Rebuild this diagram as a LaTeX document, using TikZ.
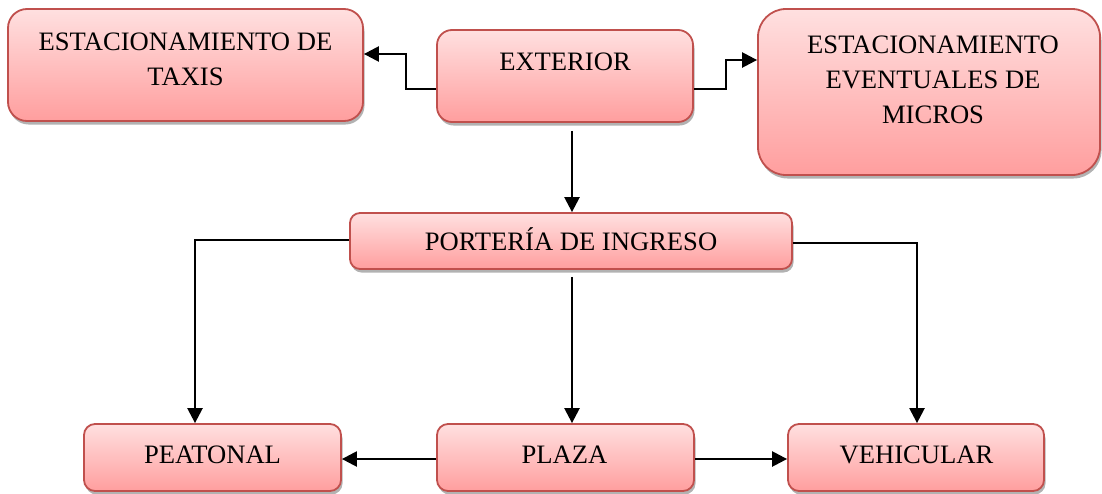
\documentclass[tikz,border=0pt]{standalone}
\usepackage{fontspec}
\setmainfont{Liberation Serif}
\usetikzlibrary{arrows.meta,shadows}
\definecolor{boxtop}{RGB}{255,224,224}
\definecolor{boxbot}{RGB}{255,158,158}
\definecolor{boxline}{RGB}{192,80,77}
\begin{document}
\begin{tikzpicture}[x=1pt,y=-1pt,
 box/.style={draw=boxline, line width=1.8pt, top color=boxtop, bottom color=boxbot,
   drop shadow={shadow xshift=1.5pt,shadow yshift=-3.5pt,opacity=0.3,fill=black}, inner sep=0pt},
 lbl/.style={font=\fontsize{26.6}{35}\selectfont, align=center, inner sep=0pt, anchor=base},
 arr/.style={line width=2.4pt, -{Triangle[length=15pt,width=15pt]}}]
\useasboundingbox (0,0) rectangle (1102,493);
% boxes
\node[box, minimum width=355pt, minimum height=112pt, rounded corners=19pt] (taxi) at (185.5,65) {};
\node[box, minimum width=256pt, minimum height=92pt, rounded corners=15pt] (ext) at (565,76) {};
\node[box, minimum width=342pt, minimum height=166pt, rounded corners=28pt] (mic) at (929,92) {};
\node[box, minimum width=442pt, minimum height=56pt, rounded corners=10pt] (port) at (571,241) {};
\node[box, minimum width=257pt, minimum height=67pt, rounded corners=11pt] (peat) at (212.5,457.5) {};
\node[box, minimum width=257pt, minimum height=67pt, rounded corners=11pt] (plaza) at (565.5,457.5) {};
\node[box, minimum width=256pt, minimum height=67pt, rounded corners=11pt] (veh) at (916,457.5) {};
% texts
\node[lbl] (taxit) at (185.5,85) {ESTACIONAMIENTO DE\\TAXIS};
\node[lbl] (extt) at (565,70) {EXTERIOR};
\node[lbl] (mict) at (933,123) {ESTACIONAMIENTO\\EVENTUALES DE\\MICROS};
\node[lbl] (portt) at (571,250) {PORTERÍA DE INGRESO};
\node[lbl] (peatt) at (212.5,463) {PEATONAL};
\node[lbl] (plazat) at (564.5,463) {PLAZA};
\node[lbl] (veht) at (916.5,463) {VEHICULAR};
% connectors
\draw[arr] (ext.west |- 0,89) -- (406,89) |- (taxi.east |- 0,54);
\draw[arr] (ext.east |- 0,89) -- (726,89) |- (mic.west |- 0,60);
\draw[arr, shorten <=8pt] (ext.south -| 572,0) -- (port.north -| 572,0);
\draw[arr] (port.west |- 0,240) -| (peat.north -| 195,0);
\draw[arr] (port.east |- 0,243) -| (veh.north -| 917,0);
\draw[arr, shorten <=7pt] (port.south -| 572,0) -- (plaza.north -| 572,0);
\draw[arr] (plaza.west |- 0,459) -- (peat.east |- 0,459);
\draw[arr] (plaza.east |- 0,459) -- (veh.west |- 0,459);
\end{tikzpicture}
\end{document}
